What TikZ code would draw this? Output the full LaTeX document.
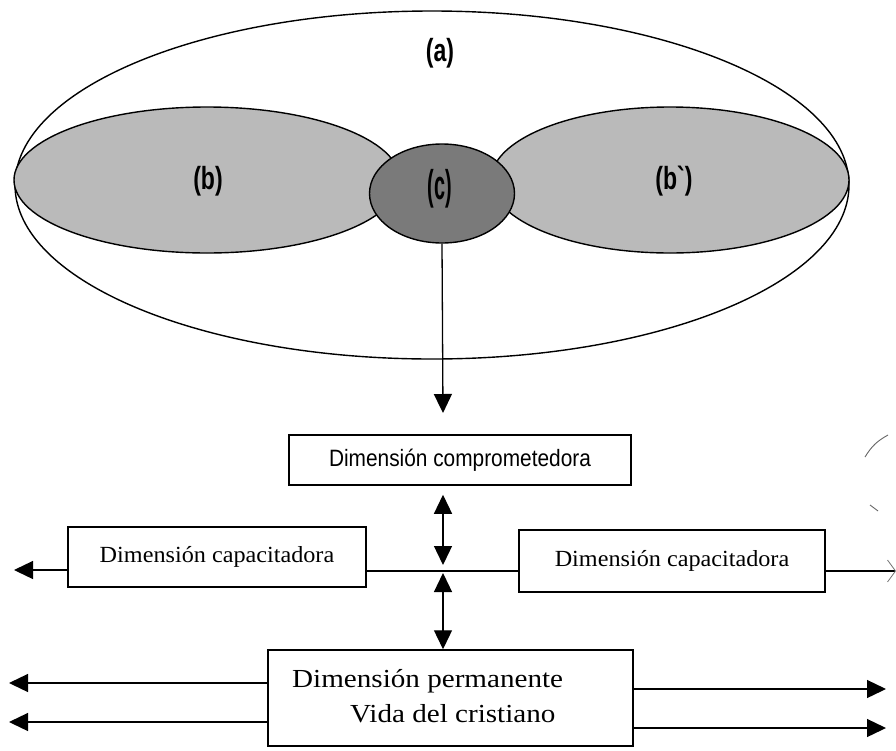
\documentclass[tikz,border=0pt]{standalone}
\usepackage{fontspec}
\setmainfont{Liberation Serif}
\setsansfont{Liberation Sans}
\newfontfamily\lblfont{Liberation Sans}
\usetikzlibrary{arrows.meta,shapes.geometric}
\begin{document}
\begin{tikzpicture}[x=1pt,y=-1pt,
  ell/.style={draw=black,line width=1.4pt,ellipse,inner sep=0pt},
  lbl/.style={font=\lblfont\bfseries\fontsize{32}{34}\selectfont,inner sep=0pt},
  box/.style={draw=black,line width=1.5pt,rectangle,inner sep=0pt},
  serifbig/.style={font=\rmfamily\fontsize{26}{30}\selectfont,inner sep=0pt},
  conn/.style={line width=1.3pt},
  tri/.style={conn,-{Triangle[length=19pt,width=18pt]}},
  dtri/.style={conn,{Triangle[length=19pt,width=18pt]}-{Triangle[length=19pt,width=18pt]}}
]
\useasboundingbox (0,0) rectangle (896,750);
% ellipses
\node[ell,minimum width=834pt,minimum height=348pt] (a) at (432,185) {};
\node[ell,fill=black!27,minimum width=386pt,minimum height=146pt] (b) at (207,180) {};
\node[ell,fill=black!27,minimum width=358pt,minimum height=146pt] (bp) at (670,180) {};
\node[ell,fill=black!52,minimum width=145pt,minimum height=99pt] (c) at (442,193.5) {};
\node[lbl] (la) at (440,53) {\scalebox{0.72}[1]{(a)}};
\node[lbl] (lb) at (208,181) {\scalebox{0.72}[1]{(b)}};
\node[lbl] (lc) at (440,189) {\scalebox{0.62}[1.3]{(c)}};
\node[lbl] (lbp) at (674,181) {\scalebox{0.72}[1]{(b`)}};
% boxes
\node[box,minimum width=342pt,minimum height=50pt] (comp) at (460,460)
  {\sffamily\fontsize{21.5}{24}\selectfont\scalebox{0.97}[1.1]{Dimensión comprometedora}};
\node[box,minimum width=298pt,minimum height=60pt] (capL) at (217,557)
  {\rmfamily\fontsize{22}{26}\selectfont\scalebox{1.1}[1.05]{Dimensión capacitadora}};
\node[box,minimum width=306pt,minimum height=62pt] (capR) at (672,561)
  {\rmfamily\fontsize{22}{26}\selectfont\scalebox{1.1}[1.05]{Dimensión capacitadora}};
\node[box,minimum width=365pt,minimum height=96pt] (perm) at (450.5,698) {};
\node[serifbig,anchor=base west] (t1) at (292,687) {\scalebox{1.12}[1]{Dimensión permanente}};
\node[serifbig,anchor=base west] (t2) at (350,722) {\scalebox{1.12}[1]{Vida del cristiano}};
% coordinates
\coordinate (ctip) at (443,413);
\coordinate (hmid) at (443,571);
\coordinate (lmid) at (14,570);
\coordinate (rmid) at (896,571);
\coordinate (l1) at (9,683);
\coordinate (l2) at (9,722);
\coordinate (r1) at (886,689);
\coordinate (r2) at (886,728);
% connectors
\draw[tri] (c.south) -- (ctip);
\draw[conn] (capL.east |- hmid) -- (capR.west |- hmid);
\draw[dtri,shorten <=9pt,shorten >=6pt] (comp.south -| hmid) -- (hmid);
\draw[dtri,shorten <=2pt] (hmid) -- (perm.north -| hmid);
\draw[tri] (capL.west |- lmid) -- (lmid);
\draw[line width=1.1pt,-{Straight Barb[length=8pt,width=22pt,line width=0.8pt,color=black!55]}] (capR.east |- rmid) -- (rmid);
\draw[tri] (perm.west |- l1) -- (l1);
\draw[tri] (perm.west |- l2) -- (l2);
\draw[tri] (perm.east |- r1) -- (r1);
\draw[tri] (perm.east |- r2) -- (r2);
% scan marks
\draw[black!60,line width=0.9pt] (865,457) to[bend left=15] (888,435);
\draw[black!60,line width=0.9pt] (870,505) -- (878,511);
\end{tikzpicture}
\end{document}
